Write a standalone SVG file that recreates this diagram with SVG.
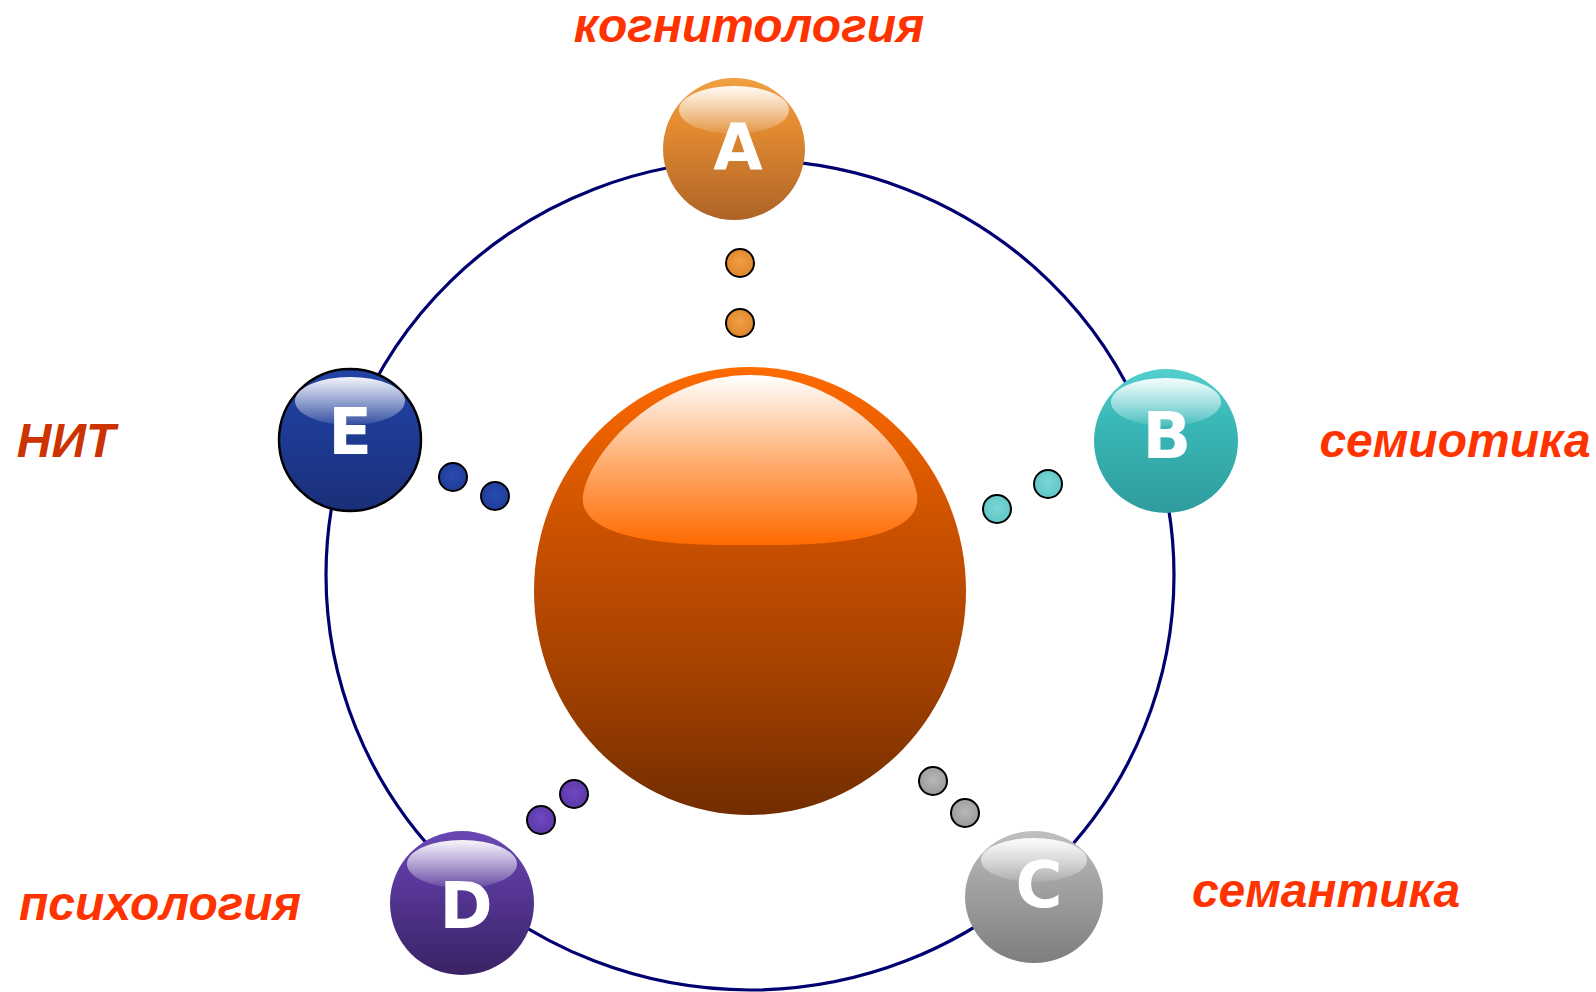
<svg xmlns="http://www.w3.org/2000/svg" width="1596" height="992" viewBox="0 0 1596 992">
  <defs>
    <!-- sphere bodies -->
    <linearGradient id="gCore" x1="0" y1="0" x2="0" y2="1">
      <stop offset="0" stop-color="#FF6A00"/>
      <stop offset="0.35" stop-color="#CC5200"/>
      <stop offset="0.7" stop-color="#A24000"/>
      <stop offset="1" stop-color="#722D00"/>
    </linearGradient>
    <linearGradient id="gCoreHi" x1="0" y1="0" x2="0" y2="1">
      <stop offset="0" stop-color="#FFFFFF"/>
      <stop offset="0.5" stop-color="#FFAE72"/>
      <stop offset="1" stop-color="#FF6A00"/>
    </linearGradient>
    <linearGradient id="gA" x1="0" y1="0" x2="0" y2="1">
      <stop offset="0" stop-color="#F0A040"/>
      <stop offset="0.35" stop-color="#E28A30"/>
      <stop offset="1" stop-color="#AE6428"/>
    </linearGradient>
    <linearGradient id="gB" x1="0" y1="0" x2="0" y2="1">
      <stop offset="0" stop-color="#55CFCF"/>
      <stop offset="0.35" stop-color="#3AB8B8"/>
      <stop offset="1" stop-color="#2F9C9C"/>
    </linearGradient>
    <linearGradient id="gC" x1="0" y1="0" x2="0" y2="1">
      <stop offset="0" stop-color="#C0C0C0"/>
      <stop offset="0.35" stop-color="#A6A6A6"/>
      <stop offset="1" stop-color="#7E7E7E"/>
    </linearGradient>
    <linearGradient id="gD" x1="0" y1="0" x2="0" y2="1">
      <stop offset="0" stop-color="#6A48B4"/>
      <stop offset="0.35" stop-color="#58389A"/>
      <stop offset="1" stop-color="#3A2264"/>
    </linearGradient>
    <linearGradient id="gE" x1="0" y1="0" x2="0" y2="1">
      <stop offset="0" stop-color="#2244A4"/>
      <stop offset="0.4" stop-color="#1E3C96"/>
      <stop offset="1" stop-color="#1A2F78"/>
    </linearGradient>
    <!-- glossy cap on the small spheres -->
    <linearGradient id="gHi" x1="0" y1="0" x2="0" y2="1">
      <stop offset="0" stop-color="#FFFFFF" stop-opacity="0.95"/>
      <stop offset="1" stop-color="#FFFFFF" stop-opacity="0.1"/>
    </linearGradient>
    <!-- satellite dots -->
    <radialGradient id="dA" cx="0.5" cy="0.45" r="0.55">
      <stop offset="0" stop-color="#F0A048"/>
      <stop offset="1" stop-color="#E08428"/>
    </radialGradient>
    <radialGradient id="dB" cx="0.5" cy="0.45" r="0.55">
      <stop offset="0" stop-color="#7CD6D6"/>
      <stop offset="1" stop-color="#5EC6C6"/>
    </radialGradient>
    <radialGradient id="dC" cx="0.5" cy="0.45" r="0.55">
      <stop offset="0" stop-color="#B8B8B8"/>
      <stop offset="1" stop-color="#9A9A9A"/>
    </radialGradient>
    <radialGradient id="dD" cx="0.5" cy="0.45" r="0.55">
      <stop offset="0" stop-color="#6E48C0"/>
      <stop offset="1" stop-color="#5C38AA"/>
    </radialGradient>
    <radialGradient id="dE" cx="0.5" cy="0.45" r="0.55">
      <stop offset="0" stop-color="#2A4CB0"/>
      <stop offset="1" stop-color="#1E3C98"/>
    </radialGradient>
    <style>
      .orbit { fill: none; stroke: #000070; stroke-width: 3.2; }
      .dot { stroke: #000000; stroke-width: 2; }
      .letter { font-family: "DejaVu Sans", "Liberation Sans", sans-serif; font-weight: bold; font-size: 64px; fill: #FFFFFF; text-anchor: middle; }
      .label { font-family: "Liberation Sans", Arial, sans-serif; font-weight: bold; font-style: italic; font-size: 48px; fill: #FF3300; text-anchor: middle; }
      .hi { fill: url(#gHi); }
    </style>
  </defs>

  <rect width="1596" height="992" fill="#FFFFFF"/>

  <!-- orbit ring and the dot pairs leading to the core -->
  <g id="connectors">
    <ellipse class="orbit" cx="750" cy="575" rx="424" ry="415"/>
    <circle class="dot" cx="740" cy="263" r="14" fill="url(#dA)"/>
    <circle class="dot" cx="740" cy="323" r="14" fill="url(#dA)"/>
    <circle class="dot" cx="1048" cy="484" r="14" fill="url(#dB)"/>
    <circle class="dot" cx="997" cy="509" r="14" fill="url(#dB)"/>
    <circle class="dot" cx="933" cy="781" r="14" fill="url(#dC)"/>
    <circle class="dot" cx="965" cy="813" r="14" fill="url(#dC)"/>
    <circle class="dot" cx="574" cy="794" r="14" fill="url(#dD)"/>
    <circle class="dot" cx="541" cy="820" r="14" fill="url(#dD)"/>
    <circle class="dot" cx="453" cy="477" r="14" fill="url(#dE)"/>
    <circle class="dot" cx="495" cy="496" r="14" fill="url(#dE)"/>
  </g>

  <!-- central sphere -->
  <g id="core">
    <ellipse cx="750" cy="591" rx="216" ry="224" fill="url(#gCore)"/>
    <path d="M583,495 C590,450 660,375 750,375 C840,375 910,450 917,495 C921,525 880,544 780,545 L720,545 C620,544 579,525 583,495 Z" fill="url(#gCoreHi)"/>
  </g>

  <g id="node-A">
    <circle cx="734" cy="149" r="71" fill="url(#gA)"/>
    <ellipse class="hi" cx="734" cy="110" rx="55" ry="24"/>
    <text class="letter" x="738" y="170">A</text>
  </g>

  <g id="node-B">
    <circle cx="1166" cy="441" r="72" fill="url(#gB)"/>
    <ellipse class="hi" cx="1166" cy="402" rx="55" ry="24"/>
    <text class="letter" x="1167" y="458">B</text>
  </g>

  <g id="node-C">
    <ellipse cx="1034" cy="897" rx="69" ry="66" fill="url(#gC)"/>
    <ellipse class="hi" cx="1034" cy="860" rx="53" ry="22"/>
    <text class="letter" x="1039" y="907">C</text>
  </g>

  <g id="node-D">
    <circle cx="462" cy="903" r="72" fill="url(#gD)"/>
    <ellipse class="hi" cx="462" cy="864" rx="55" ry="24"/>
    <text class="letter" x="466" y="928">D</text>
  </g>

  <g id="node-E">
    <circle cx="350" cy="440" r="71" fill="url(#gE)" stroke="#000000" stroke-width="2.5"/>
    <ellipse class="hi" cx="350" cy="401" rx="55" ry="24"/>
    <text class="letter" x="350" y="454">E</text>
  </g>

  <!-- discipline labels -->
  <g id="labels">
    <text class="label" x="749" y="42">когнитология</text>
    <text class="label" x="66" y="457" style="fill:#CC3300">НИТ</text>
    <text class="label" x="1455" y="457">семиотика</text>
    <text class="label" x="160" y="920">психология</text>
    <text class="label" x="1326" y="907">семантика</text>
  </g>
</svg>
